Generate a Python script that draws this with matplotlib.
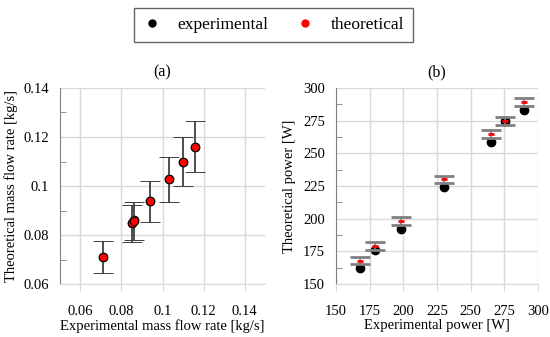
import numpy as np
import matplotlib.pyplot as plt
from matplotlib.lines import Line2D
from matplotlib.ticker import MultipleLocator

plt.rcParams['font.family'] = ['Liberation Serif', 'DejaVu Serif']
plt.rcParams['font.size'] = 11

# (a) mass flow rate
m_exp = [0.071, 0.085, 0.086, 0.094, 0.103, 0.110, 0.116]
m_theo = [0.071, 0.0848, 0.0858, 0.0937, 0.1028, 0.110, 0.116]
m_err = [0.0064, 0.0076, 0.0078, 0.0084, 0.0092, 0.0099, 0.0104]

# (b) power
p_exp = [168, 179, 198, 230, 265.5, 275.5, 289.5]
p_exp_y = [162.5, 176, 192, 224, 258.5, 274.5, 283]
p_theo = [168, 179, 198, 230, 265, 275, 289]
p_err = [3, 3, 3, 3, 3, 3, 3]

grid_c = '#d9d9d9'
bar_c = '#404040'

fig = plt.figure(figsize=(5.5, 3.37), dpi=100)
ax1 = fig.add_axes([0.109, 0.157, 0.373, 0.582])
ax2 = fig.add_axes([0.611, 0.157, 0.367, 0.582])


def style(ax):
    for s in ['top', 'right']:
        ax.spines[s].set_visible(False)
    ax.spines['left'].set_color('#808080')
    ax.spines['bottom'].set_color(grid_c)
    ax.grid(True, which='major', color=grid_c, linewidth=1)
    ax.set_axisbelow(True)
    ax.tick_params(which='major', axis='y', length=0, labelsize=10.5, pad=8)
    ax.tick_params(which='major', axis='x', direction='out', length=5, color=grid_c,
                   labelsize=10.5, pad=10)
    ax.tick_params(which='minor', axis='y', direction='in', length=4, color='#808080')
    ax.tick_params(which='minor', axis='x', length=0)


# panel (a)
ax1.plot(m_exp, m_exp, 'o', color='black', ms=6, zorder=3)
ax1.errorbar(m_exp, m_theo, yerr=m_err, fmt='o', color='red', mfc='red', mec='black',
             mew=0.7, ms=6, ecolor=bar_c, elinewidth=1.3, capsize=7, capthick=1.3, zorder=4)
ax1.set_xlim(0.05, 0.15)
ax1.set_ylim(0.06, 0.14)
ax1.set_xticks([0.06, 0.08, 0.1, 0.12, 0.14])
ax1.set_xticklabels(['0.06', '0.08', '0.1', '0.12', '0.14'])
ax1.set_yticks([0.06, 0.08, 0.1, 0.12, 0.14])
ax1.set_yticklabels(['0.06', '0.08', '0.1', '0.12', '0.14'])
ax1.yaxis.set_minor_locator(MultipleLocator(0.01))
style(ax1)
ax1.set_xlabel('Experimental mass flow rate [kg/s]', labelpad=1, fontsize=10.5)
ax1.set_ylabel('Theoretical mass flow rate [kg/s]', labelpad=4, fontsize=10.5)
ax1.set_title('(a)', fontsize=11.5, pad=8)

# panel (b)
ax2.plot(p_exp, p_exp_y, 'o', color='black', ms=6, zorder=3)
ax2.errorbar(p_exp, p_theo, yerr=p_err, fmt='_', color='red', ms=5, mew=2,
             ecolor='#808080', elinewidth=1.2, capsize=7, capthick=1.0, zorder=4)
ax2.set_xlim(150, 300)
ax2.set_ylim(150, 300)
ax2.set_xticks(np.arange(150, 301, 25))
ax2.set_yticks(np.arange(150, 301, 25))
ax2.yaxis.set_minor_locator(MultipleLocator(12.5))
style(ax2)
ax2.set_xlabel('Experimental power [W]', labelpad=1, fontsize=10.5)
ax2.set_ylabel('Theoretical power [W]', labelpad=5, fontsize=10.5)
ax2.set_title('(b)', fontsize=11.5, pad=8)

handles = [Line2D([], [], marker='o', ls='', color='black', ms=5),
           Line2D([], [], marker='o', ls='', color='red', ms=5)]
leg = fig.legend(handles, ['experimental', 'theoretical'], loc='center',
                 bbox_to_anchor=(0.498, 0.926), ncol=2, fontsize=12.5, frameon=True,
                 fancybox=False, edgecolor='#404040', handletextpad=1.0,
                 handlelength=1.0, columnspacing=1.6, borderpad=0.5)
leg.get_frame().set_linewidth(1.0)

plt.savefig('out.png', dpi=100)
